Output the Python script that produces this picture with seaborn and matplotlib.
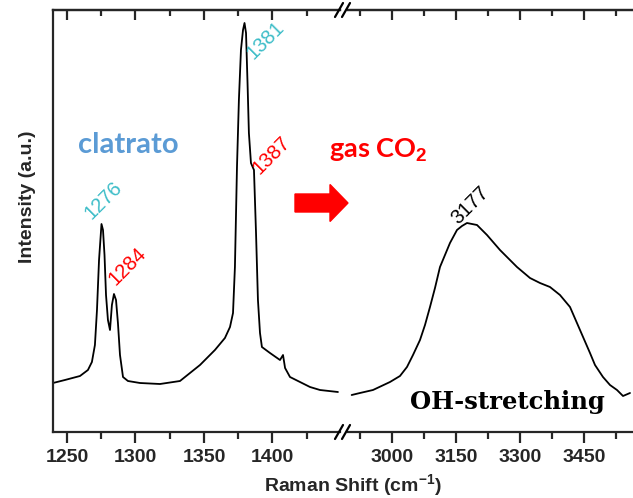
import numpy as np
import pandas as pd
import matplotlib
matplotlib.use("Agg")
import matplotlib.pyplot as plt
import matplotlib.patches as mpatches
from matplotlib.lines import Line2D
from matplotlib.ticker import FixedLocator, NullFormatter
import seaborn as sns

# ---------------- data ----------------
low_shift = [1239.8, 1248.5, 1259.5, 1265.3, 1268.2, 1270.4, 1271.9, 1273.4, 1275.2, 1276.3,
             1277.4, 1278.5, 1279.9, 1281.4, 1282.8, 1284.3, 1285.8, 1287.2, 1288.7, 1290.9,
             1294.5, 1303.3, 1317.9, 1332.5, 1347.1, 1358.0, 1365.3, 1369.0, 1371.2, 1372.6,
             1374.1, 1375.5, 1377.0, 1378.5, 1379.6, 1380.7, 1381.8, 1382.8, 1384.3, 1386.5,
             1388.0, 1389.4, 1390.9, 1392.3, 1398.2, 1405.5, 1407.7, 1409.2, 1412.8, 1420.1,
             1427.4, 1434.7, 1447.8]
low_int = [49, 52, 56, 62, 70, 87, 122, 172, 208, 202,
           177, 137, 112, 102, 127, 138, 132, 109, 77, 55,
           51, 49, 48, 51, 67, 82, 94, 105, 119, 165,
           265, 332, 382, 402, 409, 399, 349, 299, 269, 262,
           199, 132, 99, 85, 79, 72, 77, 64, 55, 50,
           45, 42, 40]

high_shift = [2905.6, 2925.0, 2955.5, 2995.3, 3018.7, 3035.1, 3049.2, 3065.6, 3077.3, 3089.0,
              3100.7, 3112.4, 3124.1, 3135.8, 3152.2, 3163.9, 3175.6, 3199.1, 3222.5, 3252.9,
              3276.3, 3292.7, 3323.2, 3346.6, 3370.0, 3393.4, 3416.9, 3440.3, 3463.7, 3475.4,
              3494.1, 3510.5, 3526.9, 3541.0, 3557.4]
high_int = [37, 39, 42, 50, 56, 65, 77, 92, 107, 125,
            144, 165, 177, 189, 202, 206, 209, 207, 197, 182,
            172, 165, 154, 149, 145, 137, 125, 102, 79, 67,
            55, 47, 42, 36, 39]

low_ticks = [1250, 1300, 1350, 1400]
low_minor = [1275, 1325, 1375, 1425]
high_ticks = [3000, 3150, 3300, 3450]
high_minor = [2925, 3075, 3225, 3375, 3525]

df_low = pd.DataFrame({"shift": low_shift, "intensity": low_int})
df_high = pd.DataFrame({"shift": high_shift, "intensity": high_int})

# ---------------- style ----------------
sns.set_style("ticks")
plt.rcParams["font.family"] = ["Liberation Sans", "DejaVu Sans"]
plt.rcParams["mathtext.fontset"] = "custom"
plt.rcParams["mathtext.rm"] = "Liberation Sans"
plt.rcParams["mathtext.bf"] = "Liberation Sans:bold"

W, H = 633, 498
fig = plt.figure(figsize=(W / 100, H / 100), dpi=100)

def fx(px):
    return px / W

def fy(py):
    return 1 - py / H

y0, y1 = fy(432), fy(10)
ax1 = fig.add_axes([fx(53), y0, fx(340) - fx(53), y1 - y0])
ax2 = fig.add_axes([fx(348), y0, fx(633) - fx(348), y1 - y0])

sns.lineplot(data=df_low, x="shift", y="intensity", ax=ax1, color="black", lw=1.3)
sns.lineplot(data=df_high, x="shift", y="intensity", ax=ax2, color="black", lw=1.3)

ax1.set_xlim(1239.8, 1449.3)
ax2.set_xlim(2897, 3564.4)
setups = [(ax1, low_ticks, low_minor), (ax2, high_ticks, high_minor)]
for ax, maj, mnr in setups:
    ax.set_ylim(0, 422)
    ax.set_xlabel("")
    ax.set_ylabel("")
    ax.set_yticks([])
    for s in ax.spines.values():
        s.set_linewidth(1.6)
    ax.xaxis.set_major_locator(FixedLocator(maj))
    ax.xaxis.set_minor_locator(FixedLocator(mnr))
    ax.set_xticklabels([str(t) for t in maj], fontweight="bold", fontsize=14)
    ax.tick_params(axis="x", which="major", direction="out", length=8, width=1.6, pad=4)
    ax.tick_params(axis="x", which="minor", direction="out", length=5, width=1.6)
    # top axis with inward ticks
    sec = ax.secondary_xaxis("top")
    sec.xaxis.set_major_locator(FixedLocator(maj))
    sec.xaxis.set_minor_locator(FixedLocator(mnr))
    sec.xaxis.set_major_formatter(NullFormatter())
    sec.xaxis.set_minor_formatter(NullFormatter())
    sec.tick_params(axis="x", which="major", direction="in", length=7, width=1.6)
    sec.tick_params(axis="x", which="minor", direction="in", length=4, width=1.6)
    sec.spines["top"].set_linewidth(1.6)

ax1.spines["right"].set_visible(False)
ax2.spines["left"].set_visible(False)
ax2.spines["right"].set_visible(False)

# break marks
for py in (432, 10):
    for dx in (-4, 3):
        cx = 343 + dx
        fig.add_artist(Line2D([fx(cx - 4), fx(cx + 4)], [fy(py + 7), fy(py - 7)],
                              color="black", lw=1.6, transform=fig.transFigure))

# annotations
cyan = "#3DBDC8"
red = "#FF0000"
labels = [("1276", cyan, 103, 200), ("1284", red, 127, 266),
          ("1381", cyan, 265, 40), ("1387", red, 271, 155), ("3177", "black", 470, 205)]
for txt, col, px, py in labels:
    fig.text(fx(px), fy(py), txt, color=col, fontsize=14.5, rotation=45,
             ha="center", va="center", rotation_mode="anchor")

fig.text(fx(128), fy(145), "clatrato", color="#5B9BD5", fontsize=21, fontweight="bold",
         family=["Lato", "DejaVu Sans"], ha="center", va="center")
fig.text(fx(378), fy(150), r"gas CO$_{\mathbf{2}}$", color=red, fontsize=19.5, fontweight="bold",
         family=["Lato", "DejaVu Sans"], ha="center", va="center")
fig.text(fx(507), fy(402), "OH-stretching", color="black", fontsize=17.5, fontweight="bold",
         family=["DejaVu Serif"], ha="center", va="center")

arrow = mpatches.FancyArrow(2.95, (H - 203) / 100, 0.53, 0, width=0.18, head_width=0.37,
                            head_length=0.18, length_includes_head=True, color=red,
                            transform=fig.dpi_scale_trans)
fig.add_artist(arrow)

fig.text(fx(353), fy(486), r"Raman Shift (cm$^{\mathbf{-1}}$)", fontsize=14, fontweight="bold",
         ha="center", va="center")
fig.text(fx(27), fy(197), "Intensity (a.u.)", fontsize=14, fontweight="bold",
         ha="center", va="center", rotation=90)

fig.savefig("out.png", dpi=100)
